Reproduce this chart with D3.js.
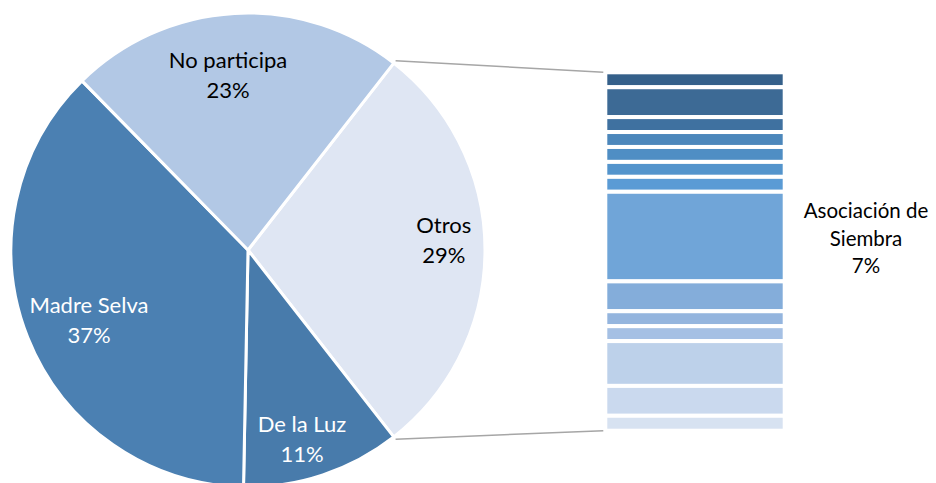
<!DOCTYPE html>
<html>
<head>
<meta charset="utf-8">
<script src="https://cdn.jsdelivr.net/npm/d3@7"></script>
<style>
  html, body { margin: 0; padding: 0; background: #fff; }
  svg { display: block; }
  text { font-family: Lato, "Open Sans", sans-serif; }
</style>
</head>
<body>
<svg id="chart" width="936" height="483"></svg>
<script>
// ---- data ----
const pieCategories = ["Otros", "De la Luz", "Madre Selva", "No participa"];
const pieValues = [24, 9, 31, 19];          // respondents
const barValues = [1, 2, 1, 1, 1, 1, 1, 6, 2, 1, 1, 3, 2, 1]; // breakdown of "Otros"
const barLabelIndex = 7;
const barLabelLines = ["Asociación de", "Siembra"];

// ---- styles ----
const pieColors = ["#DFE6F3", "#487BAB", "#4B80B2", "#B2C8E5"];
const pieTextColors = ["#000", "#fff", "#fff", "#000"];
const barColors = ["#35608A", "#3D6A95", "#3F71A0", "#4C87BB", "#4F8EC4", "#5394CC", "#5A9BD5",
                   "#70A5D8", "#84ADDA", "#94B5DE", "#A5C0E4", "#BDD1EA", "#CAD9EE", "#D7E2F1"];
const labelRadius = [196, 198, 174, 175];
const labelAngleShift = [-2.6, 2.6, -2.3, -3.3];

const svg = d3.select("#chart");
const total = d3.sum(pieValues);
const fmt = d3.format(".0%");

const cx = 248, cy = 250, R = 237;
const otrosSpan = pieValues[0] / total * 2 * Math.PI;
const start = Math.PI / 2 - otrosSpan / 2;

const pie = d3.pie().sort(null).value(d => d)
  .startAngle(start).endAngle(start + 2 * Math.PI);
const arcs = pie(pieValues);
const arc = d3.arc().innerRadius(0).outerRadius(R);

const g = svg.append("g").attr("transform", `translate(${cx},${cy})`);
g.selectAll("path").data(arcs).enter().append("path")
  .attr("d", arc)
  .attr("fill", (d, i) => pieColors[i])
  .attr("stroke", "#fff")
  .attr("stroke-width", 3)
  .attr("stroke-linejoin", "round");

// labels
const fs = 22;
arcs.forEach((a, i) => {
  const ang = (a.startAngle + a.endAngle) / 2 + labelAngleShift[i] * Math.PI / 180;
  const x = labelRadius[i] * Math.sin(ang);
  const y = -labelRadius[i] * Math.cos(ang);
  const t = g.append("text")
    .attr("text-anchor", "middle")
    .attr("fill", pieTextColors[i])
    .style("font-size", fs + "px");
  t.append("tspan").attr("x", x).attr("y", y - 8).text(pieCategories[i]);
  t.append("tspan").attr("x", x).attr("y", y + 22).text(fmt(a.value / total));
});

// bar of "Otros"
const barX = 605.3, barW = 179.4, barTop = 72.3, barBottom = 430.7;
const barTotal = d3.sum(barValues);
const yScale = d3.scaleLinear().domain([0, barTotal]).range([barTop, barBottom]);
const cum = d3.cumsum(barValues);
const barData = barValues.map((v, i) => ({ v, i, y0: cum[i] - v, y1: cum[i] }));

svg.append("g").selectAll("rect").data(barData).enter().append("rect")
  .attr("x", barX)
  .attr("width", barW)
  .attr("y", d => yScale(d.y0))
  .attr("height", d => yScale(d.y1) - yScale(d.y0))
  .attr("fill", d => barColors[d.i])
  .attr("stroke", "#fff")
  .attr("stroke-width", 4);

// connectors
const a0 = arcs[0];
const rC = R + 3;
const p1 = [cx + rC * Math.sin(a0.startAngle), cy - rC * Math.cos(a0.startAngle)];
const p2 = [cx + rC * Math.sin(a0.endAngle), cy - rC * Math.cos(a0.endAngle)];
svg.append("line")
  .attr("x1", p1[0]).attr("y1", p1[1])
  .attr("x2", barX - 2).attr("y2", yScale(0))
  .attr("stroke", "#A6A6A6").attr("stroke-width", 1.5);
svg.append("line")
  .attr("x1", p2[0]).attr("y1", p2[1])
  .attr("x2", barX - 2).attr("y2", yScale(barTotal))
  .attr("stroke", "#A6A6A6").attr("stroke-width", 1.5);

// bar label
const sel = barData[barLabelIndex];
const blx = 866;
const bt = svg.append("text").attr("text-anchor", "middle").attr("fill", "#000")
  .style("font-size", "20.5px");
const words = barLabelLines.concat([fmt(sel.v / total)]);
words.forEach((w, k) => {
  bt.append("tspan").attr("x", blx).attr("y", 218 + k * 27.5).text(w);
});
</script>
</body>
</html>
